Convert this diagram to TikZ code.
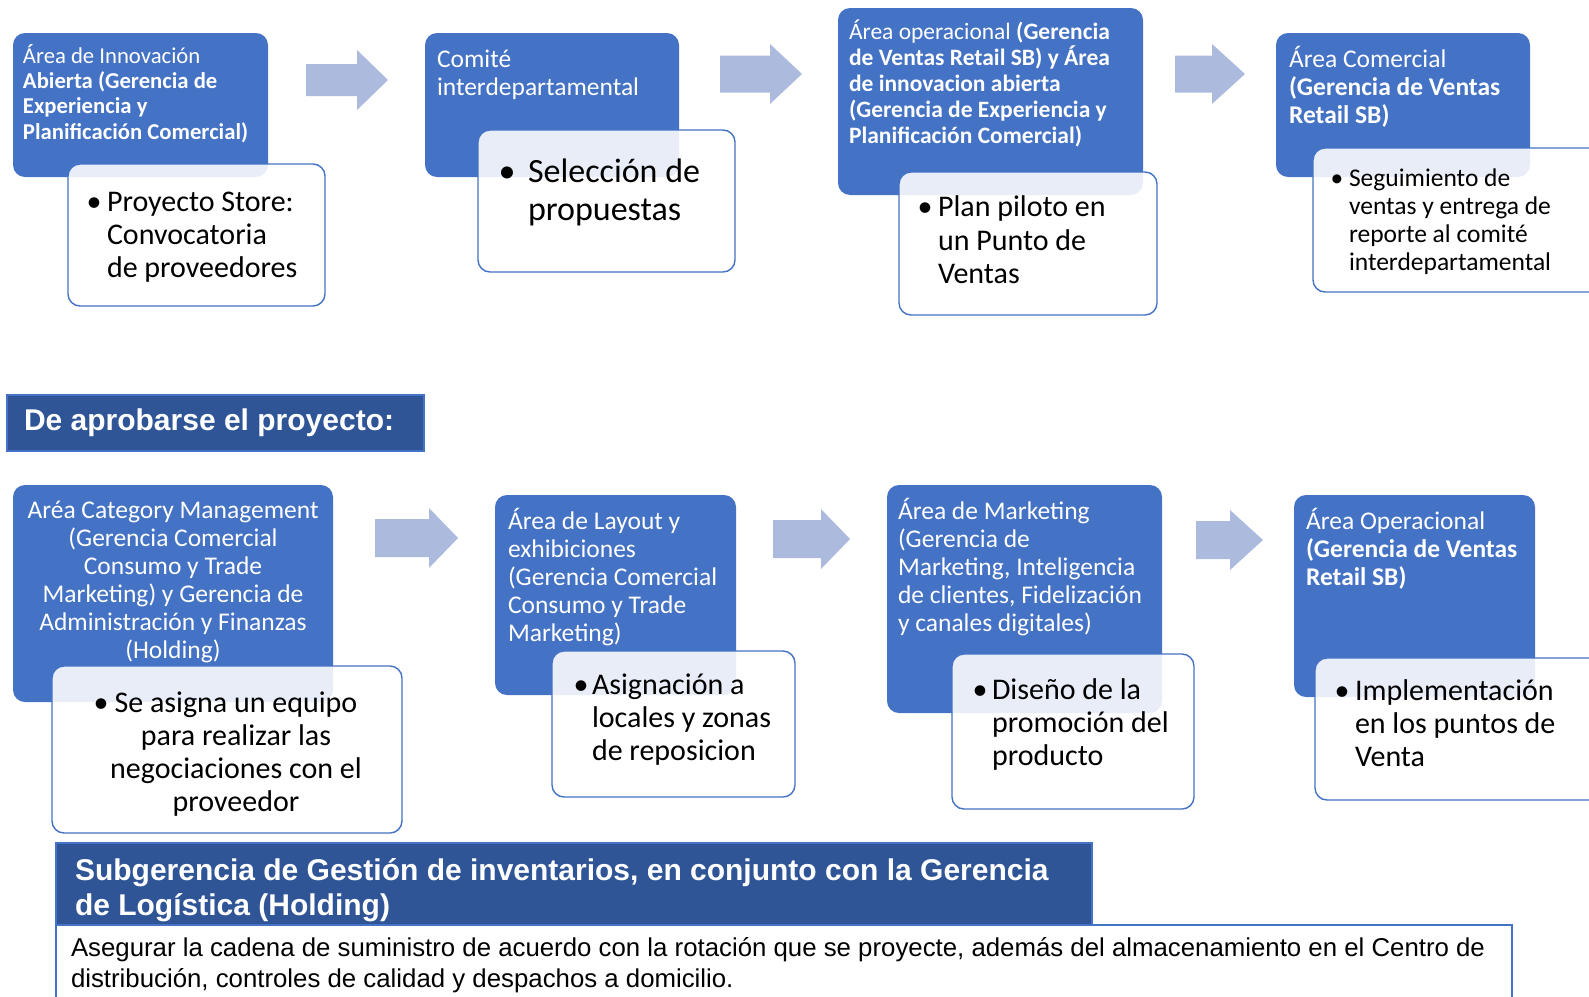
\documentclass[tikz,border=0pt]{standalone}
\usepackage{fontspec}
\setmainfont{Carlito}
\newfontfamily\arialf{Liberation Sans}
\definecolor{bblue}{RGB}{68,114,196}
\definecolor{dblue}{RGB}{47,85,151}
\definecolor{arrowc}{RGB}{172,186,222}
\newcommand\blkarrow[5]{%
  \fill[blockarrow] ({#1},{#4-#5}) -- ({#2},{#4-#5}) -- ({#2},{#4-30}) -- ({#3},{#4}) -- ({#2},{#4+30}) -- ({#2},{#4+#5}) -- ({#1},{#4+#5}) -- cycle;}
\newcommand\tstrut{\rule{0pt}{1em}}
\newcommand\fs[2]{\fontsize{#1}{#2}\selectfont\lineskiplimit=-1000pt\relax}
\begin{document}
\begin{tikzpicture}[x=1pt, y=-1pt,
  bluebox/.style={fill=bblue, draw=none, rounded corners=12pt, inner sep=0pt, outer sep=0pt},
  whitebox/.style={fill=white, fill opacity=0.88, draw=bblue, line width=1.4pt, rounded corners=12pt, inner sep=0pt},
  darkbar/.style={fill=dblue, draw=bblue, line width=1.6pt, inner sep=0pt},
  plainbox/.style={fill=white, draw=bblue, line width=1.3pt, inner sep=0pt},
  blockarrow/.style={fill=arrowc, draw=none},
  wtxt/.style={text=white, inner sep=0pt, outer sep=0pt, anchor=north west, align=left},
  ktxt/.style={text=black, inner sep=0pt, outer sep=0pt, anchor=north west, align=left},
  bul/.style={text=black, inner sep=0pt, outer sep=0pt, anchor=base},
]
\path[use as bounding box] (0,0) rectangle (1589,996);

% ---------- top row ----------
\node[bluebox, minimum width=255pt, minimum height=144pt] (b1) at (140.5,105) {};
\node[whitebox, minimum width=257pt, minimum height=142pt] (w1) at (196.5,235) {};
\node[wtxt, font=\fs{22.7}{25.3}] (t1) at (23,40.5) {\tstrut Área de Innovación\\\textbf{Abierta (Gerencia de}\\\textbf{Experiencia y}\\\textbf{Planificación Comercial)}};
\node[bul, font=\fs{30}{33.3}] (u1) at (94,211) {•};
\node[ktxt, font=\fs{30}{33.3}] (s1) at (107,181) {\tstrut Proyecto Store:\\Convocatoria\\de proveedores};

\blkarrow{306}{357}{388}{80}{16}

\node[bluebox, minimum width=254pt, minimum height=144pt] (b2) at (552,105) {};
\node[whitebox, minimum width=257pt, minimum height=142pt] (w2) at (606.5,201) {};
\node[wtxt, font=\fs{25.5}{28}] (t2) at (437,41.5) {\tstrut Comité\\interdepartamental};
\node[bul, font=\fs{34}{38.5}] (u2) at (507,182) {•};
\node[ktxt, font=\fs{34}{38.5}] (s2) at (528,148) {\tstrut Selección de\\propuestas};

\blkarrow{720}{770}{802}{74}{18.5}

\node[bluebox, minimum width=305pt, minimum height=187pt] (b3) at (990.5,101.5) {};
\node[whitebox, minimum width=258pt, minimum height=143pt] (w3) at (1028,243.5) {};
\node[wtxt, font=\fs{23.5}{25.9}] (t3) at (849,16) {\tstrut Área operacional \textbf{(Gerencia}\\\textbf{de Ventas Retail SB) y Área}\\\textbf{de innovacion abierta}\\\textbf{(Gerencia de Experiencia y}\\\textbf{Planificación Comercial)}};
\node[bul, font=\fs{30}{33.5}] (u3) at (925,216.7) {•};
\node[ktxt, font=\fs{30}{33.5}] (s3) at (938,186.7) {\tstrut Plan piloto en\\un Punto de\\Ventas};

\blkarrow{1175}{1212}{1245}{74}{18.5}

\node[bluebox, minimum width=254pt, minimum height=144pt] (b4) at (1403,105) {};
\node[whitebox, minimum width=297pt, minimum height=144pt] (w4) at (1461.5,220) {};
\node[wtxt, font=\fs{25.5}{28}] (t4) at (1289,41.5) {\tstrut Área Comercial\\\textbf{(Gerencia de Ventas}\\\textbf{Retail SB)}};
\node[bul, font=\fs{25.5}{28.3}] (u4) at (1337,186) {•};
\node[ktxt, font=\fs{25.5}{28.3}] (s4) at (1349,160.5) {\tstrut Seguimiento de\\ventas y entrega de\\reporte al comité\\interdepartamental};

% ---------- banner ----------
\node[darkbar, minimum width=417pt, minimum height=56pt] (ban) at (215.5,423) {};
\node[wtxt, font=\arialf\bfseries\fs{30}{34}] (bant) at (24,400) {\tstrut De aprobarse el proyecto:};

% ---------- bottom row ----------
\node[bluebox, minimum width=320pt, minimum height=217pt] (b5) at (173,593.5) {};
\node[whitebox, minimum width=350pt, minimum height=167pt] (w5) at (227,749.5) {};
\node[wtxt, anchor=north, align=center, font=\fs{25.5}{28}] (t5) at (173,493) {\tstrut Aréa Category Management\\(Gerencia Comercial\\Consumo y Trade\\Marketing) y Gerencia de\\Administración y Finanzas\\(Holding)};
\node[bul, font=\fs{30}{33.2}] (u5) at (101,712) {•};
\node[ktxt, anchor=north, align=center, font=\fs{30}{33.2}] (s5) at (236,682) {\tstrut Se asigna un equipo\\para realizar las\\negociaciones con el\\proveedor};

\blkarrow{375}{429}{458}{538}{19}

\node[bluebox, minimum width=241pt, minimum height=200pt] (b6) at (615.5,595) {};
\node[whitebox, minimum width=243pt, minimum height=146pt] (w6) at (673.5,724) {};
\node[wtxt, font=\fs{25.5}{28}] (t6) at (508,503.5) {\tstrut Área de Layout y\\exhibiciones\\(Gerencia Comercial\\Consumo y Trade\\Marketing)};
\node[bul, font=\fs{30}{33}] (u6) at (581,694) {•};
\node[ktxt, font=\fs{30}{33}] (s6) at (592,664) {\tstrut Asignación a\\locales y zonas\\de reposicion};

\blkarrow{773}{821}{850}{539}{19}

\node[bluebox, minimum width=275pt, minimum height=228pt] (b7) at (1024.5,599) {};
\node[whitebox, minimum width=242pt, minimum height=155pt] (w7) at (1073,731.5) {};
\node[wtxt, font=\fs{25.5}{28}] (t7) at (898,493.5) {\tstrut Área de Marketing\\(Gerencia de\\Marketing, Inteligencia\\de clientes, Fidelización\\y canales digitales)};
\node[bul, font=\fs{30}{33}] (u7) at (980,699) {•};
\node[ktxt, font=\fs{30}{33}] (s7) at (992,669) {\tstrut Diseño de la\\promoción del\\producto};

\blkarrow{1196}{1230}{1263}{540}{19}

\node[bluebox, minimum width=241pt, minimum height=202pt] (b8) at (1414.5,596) {};
\node[whitebox, minimum width=295pt, minimum height=142pt] (w8) at (1462.5,729) {};
\node[wtxt, font=\fs{25.5}{28}] (t8) at (1306,503.5) {\tstrut Área Operacional\\\textbf{(Gerencia de Ventas}\\\textbf{Retail SB)}};
\node[bul, font=\fs{30}{33}] (u8) at (1342,700) {•};
\node[ktxt, font=\fs{30}{33}] (s8) at (1355,670) {\tstrut Implementación\\en los puntos de\\Venta};

% ---------- bottom panel ----------
\node[plainbox, minimum width=1456pt, minimum height=85pt] (body) at (784,967.5) {};
\node[darkbar, minimum width=1036pt, minimum height=82pt] (hdr) at (574,884) {};
\node[wtxt, font=\arialf\bfseries\fs{30}{35.5}] (hdrt) at (75,850) {\tstrut Subgerencia de Gestión de inventarios, en conjunto con la Gerencia\\de Logística (Holding)};
\node[ktxt, font=\arialf\fs{25.8}{31.5}] (bodyt) at (71,930.5) {\tstrut Asegurar la cadena de suministro de acuerdo con la rotación que se proyecte, además del almacenamiento en el Centro de\\distribución, controles de calidad y despachos a domicilio.};
\end{tikzpicture}
\end{document}
